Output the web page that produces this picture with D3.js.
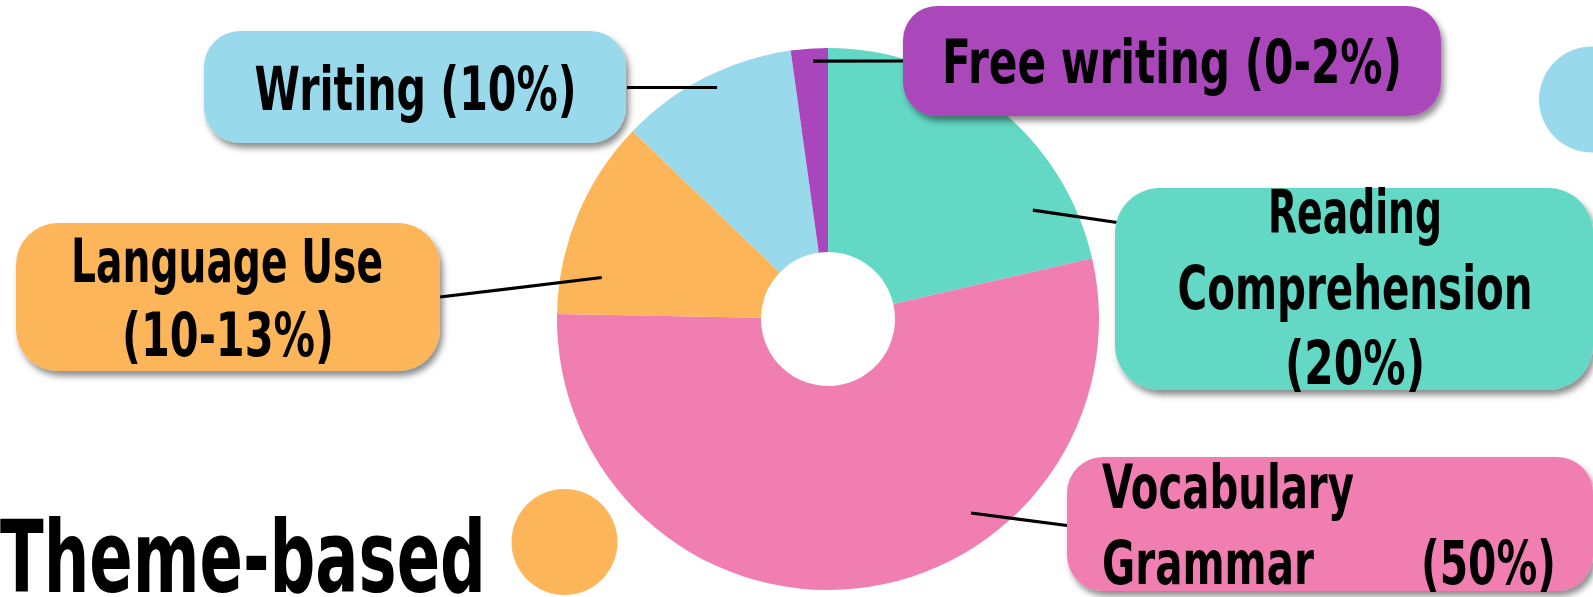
<!DOCTYPE html>
<html>
<head>
<meta charset="utf-8">
<script src="https://cdn.jsdelivr.net/npm/d3@7"></script>
<style>
  html, body { margin: 0; padding: 0; background: #ffffff; overflow: hidden; }
  svg { display: block; }
  text { font-family: "Liberation Sans Narrow", "DejaVu Sans Condensed", "Liberation Sans", sans-serif; font-weight: bold; fill: #000; }
</style>
</head>
<body>
<svg id="chart" width="1593" height="597"></svg>
<script>
// ---- data ----
const categories = ["Reading Comprehension", "Vocabulary Grammar", "Language Use", "Writing", "Free writing"];
const values = [21.4, 53.9, 11.9, 10.6, 2.2];
const labelLines = [
  ["Reading", "Comprehension", "(20%)"],
  ["Vocabulary", "Grammar", "(50%)"],
  ["Language Use", "(10-13%)"],
  ["Writing (10%)"],
  ["Free writing (0-2%)"]
];
const titleText = "Theme-based";

// ---- styles / layout ----
const colors = ["#63D8C4", "#F07EB1", "#FDB55A", "#98D9EC", "#AA46BB"];
const W = 1593, H = 597;
const cx = 828, cy = 319, rOuter = 271, rInner = 67;

// annotation layout (boxes, leader anchors)
const layout = [
  { box: [1115, 188, 478, 202, 45], anchor: [62.0, 232], end: [1117, 222.5],
    lines: [{ x: 1355, y: 233, w: 174, a: "middle" }, { x: 1355, y: 309, w: 355, a: "middle" }, { x: 1355, y: 384, w: 140, a: "middle" }] },
  { box: [1067, 457, 526, 134, 36], anchor: [143.6, 241], end: [1067, 525.5],
    lines: [{ x: 1102, y: 508, w: 252, a: "start" }, { x: 1102, y: 584, w: 212, a: "start" }, { x: 1556, y: 584, w: 135, a: "end" }] },
  { box: [16, 223, 424, 148, 42], anchor: [280.4, 230], end: [440, 297],
    lines: [{ x: 227, y: 282, w: 312, a: "middle" }, { x: 228, y: 356, w: 212, a: "middle" }] },
  { box: [204, 31, 422, 112, 36], anchor: [334.4, 256.7], end: [627, 87.5],
    lines: [{ x: 415.5, y: 110, w: 322, a: "middle" }] },
  { box: [903, 6, 538, 110, 34], anchor: [356.7, 258.4], end: [903, 61],
    lines: [{ x: 1172, y: 83, w: 460, a: "middle" }] }
];

const svg = d3.select("#chart");

const defs = svg.append("defs");
const f = defs.append("filter").attr("id", "shadow")
  .attr("x", "-10%").attr("y", "-10%").attr("width", "130%").attr("height", "140%");
f.append("feDropShadow").attr("dx", 3).attr("dy", 5).attr("stdDeviation", 3)
  .attr("flood-color", "#000").attr("flood-opacity", 0.45);

// decorative circles
svg.append("circle").attr("cx", 564.5).attr("cy", 542).attr("r", 53).attr("fill", "#FDB55A");
svg.append("circle").attr("cx", 1592).attr("cy", 99.5).attr("r", 53).attr("fill", "#98D9EC");

// pie
const pie = d3.pie().sort(null).value(d => d)(values);
const arc = d3.arc().innerRadius(rInner).outerRadius(rOuter);
const g = svg.append("g").attr("transform", `translate(${cx},${cy})`);
g.selectAll("path.slice").data(pie).join("path")
  .attr("class", "slice")
  .attr("d", arc)
  .attr("fill", (d, i) => colors[i]);

// leader lines
const toRad = Math.PI / 180;
svg.selectAll("line.leader").data(layout).join("line")
  .attr("class", "leader")
  .attr("x1", d => cx + d3.pointRadial(d.anchor[0] * toRad, d.anchor[1])[0])
  .attr("y1", d => cy + d3.pointRadial(d.anchor[0] * toRad, d.anchor[1])[1])
  .attr("x2", d => d.end[0])
  .attr("y2", d => d.end[1])
  .attr("stroke", "#000")
  .attr("stroke-width", 3.2);

// helper: text squeezed horizontally to a target width
function fitText(parent, str, x, y, w, anchor, size) {
  const t = parent.append("text")
    .attr("x", 0).attr("y", 0)
    .attr("text-anchor", anchor)
    .attr("font-size", size)
    .text(str);
  const nat = t.node().getComputedTextLength() || w;
  const sx = w / nat;
  t.attr("transform", `translate(${x},${y}) scale(${sx},1)`);
  return t;
}

// label boxes
const lg = svg.selectAll("g.label").data(layout).join("g").attr("class", "label");
lg.append("rect")
  .attr("x", d => d.box[0]).attr("y", d => d.box[1])
  .attr("width", d => d.box[2]).attr("height", d => d.box[3])
  .attr("rx", d => d.box[4]).attr("ry", d => d.box[4])
  .attr("fill", (d, i) => colors[i])
  .attr("filter", "url(#shadow)");
lg.each(function (d, i) {
  const sel = d3.select(this);
  d.lines.forEach((ln, j) => fitText(sel, labelLines[i][j], ln.x, ln.y, ln.w, ln.a, 60));
});

// title
fitText(svg, titleText, 0, 592, 486, "start", 100);
</script>
</body>
</html>
